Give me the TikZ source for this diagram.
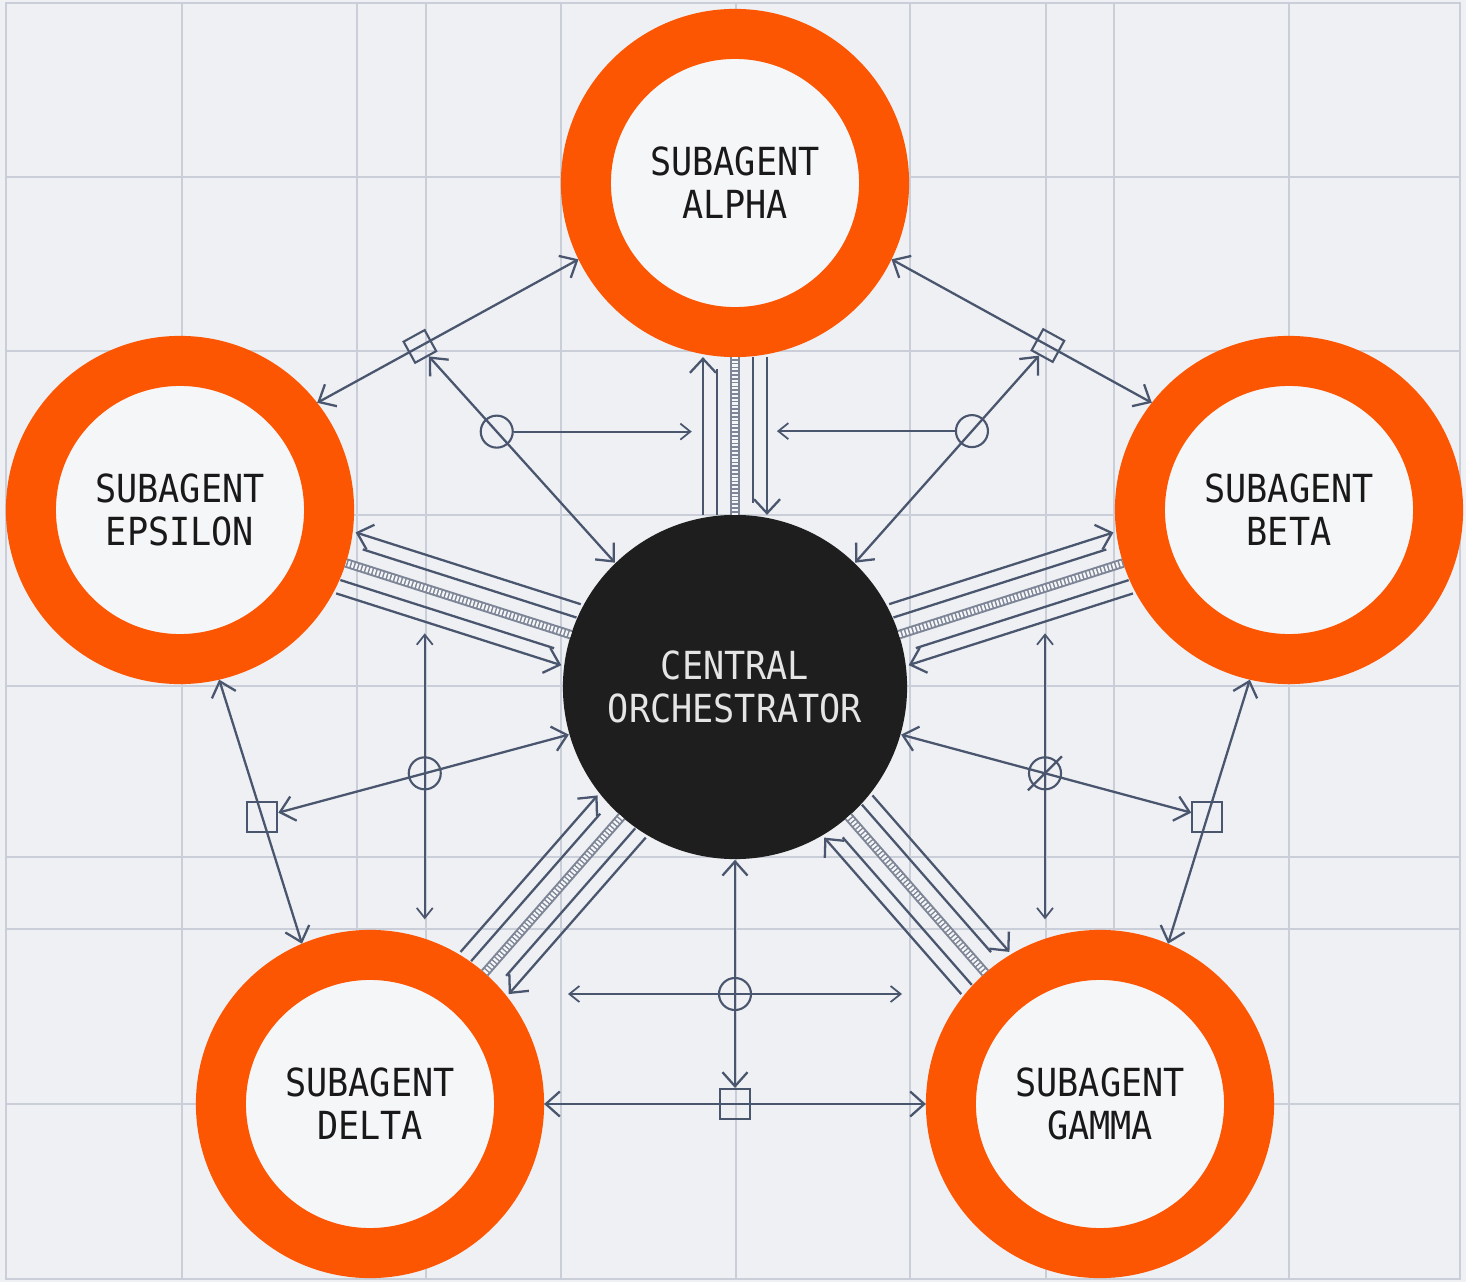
\documentclass[tikz,border=0pt]{standalone}
\usepackage{fontspec}
\usepackage{xcolor}
\usetikzlibrary{calc,arrows.meta}
\newfontfamily\labelfont[FakeStretch=0.91]{DejaVu Sans Mono}
\definecolor{paper}{HTML}{EEF0F4}
\definecolor{gridline}{HTML}{C9CED8}
\definecolor{wire}{HTML}{4A566E}
\definecolor{ropegrey}{HTML}{7D8596}
\definecolor{agentorange}{HTML}{FD5602}
\definecolor{orchblack}{HTML}{1E1E1E}
\tikzstyle{agent} = [circle, draw=agentorange, line width=0.5cm, fill=paper!60!white, minimum size=2.98cm, inner sep=0pt, align=center, text=black!90, font=\labelfont\fontsize{11}{12.2}\selectfont]
\tikzstyle{orchestrator} = [circle, fill=orchblack, minimum size=3.44cm, inner sep=0pt, align=center, text=white!90!black, font=\labelfont\fontsize{11}{12.2}\selectfont]
\tikzstyle{pipe} = [draw=wire, line width=0.65pt]
\tikzstyle{pipearrow} = [pipe, -{Straight Barb[length=1.4mm, width=2.6mm]}]
\tikzstyle{rope} = [draw=paper!60!white, line width=0.55mm, dash pattern=on 0.22mm off 0.16mm, preaction={draw=ropegrey, solid, line width=0.95mm}]
\tikzstyle{link} = [draw=wire, line width=0.65pt, {Straight Barb[length=1.4mm, width=2.5mm]}-{Straight Barb[length=1.4mm, width=2.5mm]}]
\tikzstyle{hint} = [draw=wire, line width=0.5pt, -{Straight Barb[length=1mm, width=1.6mm]}]
\tikzstyle{hints} = [hint, {Straight Barb[length=1mm, width=1.6mm]}-{Straight Barb[length=1mm, width=1.6mm]}]
\tikzstyle{port} = [draw=wire, line width=0.6pt, minimum size=0.3cm, inner sep=0pt]
\tikzstyle{joint} = [circle, draw=wire, line width=0.6pt, minimum size=0.32cm, inner sep=0pt]

\begin{document}
\begin{tikzpicture}[x=0.01cm, y=-0.01cm]
            \useasboundingbox (0,0) rectangle (1466,1282);
            \fill[paper] (0,0) rectangle (1466,1282);
            \foreach \gx in {182,357,426,561,736,910,1046,1114,1289}
                \draw[gridline, line width=0.5pt] (\gx,3) -- (\gx,1279);
            \foreach \gy in {177,351,515,686,857,929,1104}
                \draw[gridline, line width=0.5pt] (6,\gy) -- (1460,\gy);
            \draw[gridline, line width=0.8pt] (6,3) rectangle (1460,1279);

            \node(orch) [orchestrator] at (735,687) {CENTRAL\\ORCHESTRATOR};
            \node(alpha) [agent] at (735,183) {SUBAGENT\\ALPHA};
            \node(beta) [agent] at (1289,510) {SUBAGENT\\BETA};
            \node(gamma) [agent] at (1100,1104) {SUBAGENT\\GAMMA};
            \node(delta) [agent] at (370,1104) {SUBAGENT\\DELTA};
            \node(epsilon) [agent] at (180,510) {SUBAGENT\\EPSILON};

            \foreach \sub/\sd in {alpha/1, beta/1, gamma/1, delta/1, epsilon/-1} {
                \coordinate (s) at ($(orch.center)!1.72cm!(\sub.center)$);
                \coordinate (e) at ($(\sub.center)!1.74cm!(orch.center)$);
                \draw[rope] (s) -- (e);
                \draw[pipearrow] ($(s)!\sd*0.32cm!90:(e)$) -- ($(e)!\sd*0.32cm!-90:(s)$);
                \draw[pipe, shorten >=0.12cm] ($(s)!\sd*0.18cm!90:(e)$) -- ($(e)!\sd*0.18cm!-90:(s)$);
                \draw[pipearrow] ($(e)!\sd*0.32cm!90:(s)$) -- ($(s)!\sd*0.32cm!-90:(e)$);
                \draw[pipe, shorten >=0.12cm] ($(e)!\sd*0.18cm!90:(s)$) -- ($(s)!\sd*0.18cm!-90:(e)$);
            }

            \node(sqAE) [port, minimum size=0.24cm, rotate=28.8] at ($(alpha.206)!0.607!(epsilon.38)$) {};
            \node(sqAB) [port, minimum size=0.24cm, rotate=-28.8] at ($(alpha.334)!0.601!(beta.142)$) {};
            \node(sqED) [port] at ($(epsilon.283)!0.52!(delta.113)$) {};
            \node(sqBG) [port] at ($(beta.257)!0.52!(gamma.67)$) {};
            \node(sqDG) [port] at ($(delta)!0.5!(gamma)$) {};

            \draw[link] (alpha.206) -- (epsilon.38);
            \draw[link] (alpha.334) -- (beta.142);
            \draw[link] (epsilon.283) -- (delta.113);
            \draw[link] (beta.257) -- (gamma.67);
            \draw[link] (delta) -- (gamma);
            \draw[link] (sqAE) -- (orch.134);
            \draw[link] (sqAB) -- (orch.46);
            \draw[link] (sqED) -- (orch.196);
            \draw[link] (sqBG) -- (orch.344);
            \draw[link] (orch) -- (sqDG);

            \node(jAE) [joint] at ($(sqAE)!0.394!(orch.134)$) {};
            \node(jAB) [joint] at ($(sqAB)!0.394!(orch.46)$) {};
            \node(jED) [joint] at ($(sqED)!0.53!(orch.196)$) {};
            \node(jBG) [joint] at ($(sqBG)!0.53!(orch.344)$) {};
            \node(jDG) [joint] at (735,994) {};

            \coordinate (hAE) at ($(jAE)+(195,0)$);
            \coordinate (hAB) at ($(jAB)+(-195,0)$);
            \coordinate (vEDa) at ($(jED)+(0,-140)$);
            \coordinate (vEDb) at ($(jED)+(0,146)$);
            \coordinate (vBGa) at ($(jBG)+(0,-140)$);
            \coordinate (vBGb) at ($(jBG)+(0,146)$);
            \coordinate (hDGa) at ($(jDG)+(-167,0)$);
            \coordinate (hDGb) at ($(jDG)+(167,0)$);
            \draw[hint] (jAE) -- (hAE);
            \draw[hint] (jAB) -- (hAB);
            \draw[hints] (vEDa) -- (vEDb);
            \draw[hints] (vBGa) -- (vBGb);
            \draw[hints] (hDGa) -- (hDGb);
            \draw[pipe] ($(jBG)+(-17,17)$) -- ($(jBG)+(17,-17)$);
        \end{tikzpicture}
\end{document}
